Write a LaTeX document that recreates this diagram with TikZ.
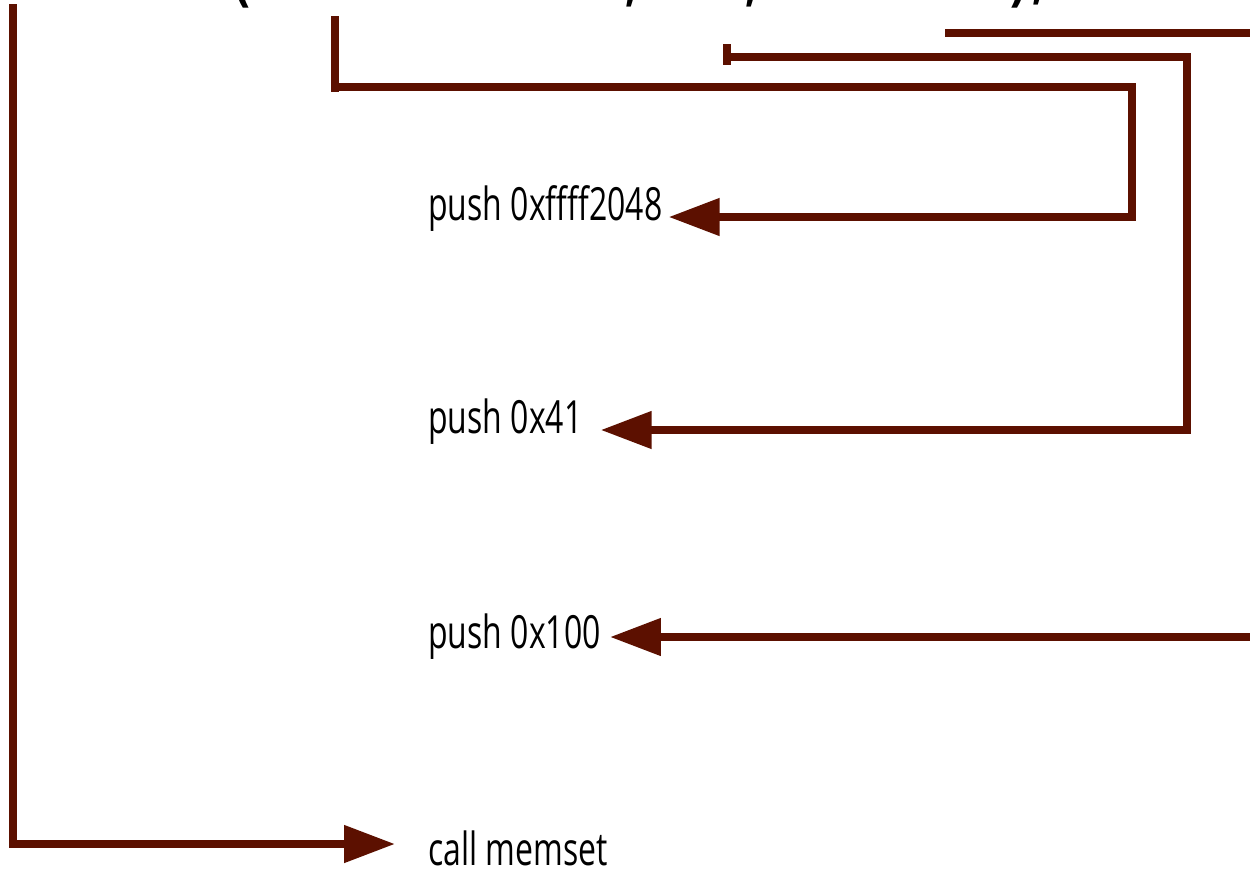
\documentclass[tikz,border=0pt]{standalone}
\usepackage{fontspec}
\setmainfont{Open Sans}[FakeStretch=0.70]
\usetikzlibrary{arrows.meta,calc}
\definecolor{wire}{RGB}{92,16,0}
\begin{document}
\begin{tikzpicture}[x=0.02cm,y=-0.02cm,
  wire/.style={draw=wire,line width=4.4pt},
  feed/.style={wire,-{Triangle[length=29pt,width=20.5pt]}},
  lbl/.style={anchor=base west,inner sep=0pt,font=\fontsize{26}{30}\selectfont},
  call/.style={anchor=south,inner sep=0pt,font=\fontsize{60}{70}\selectfont}]
\clip (0,0) rectangle (1250,869);
\useasboundingbox (0,0) rectangle (1250,869);

% the C call, only its lower edge in view
\node[call] (lp) at (240,9) {(};
\node[call] (c1) at (634,7) {,};
\node[call] (c2) at (754,7) {,};
\node[call] (rp) at (1030,9) {);};

% the assembly listing
\node[lbl] (p1) at (428,220) {push 0xffff2048};
\node[lbl] (p2) at (428,433) {push 0x41};
\node[lbl] (p3) at (428,648) {push 0x100};
\node[lbl] (cm) at (428,865) {call memset};

% argument taps under the call
\coordinate (a0) at (13,4);
\coordinate (a1) at (335,16);
\coordinate (a2) at (727,44);
\coordinate (a3) at (945,33);
\coordinate (a3r) at (1252,637);

% bends
\coordinate (b1) at (1132,87);
\coordinate (r1) at (1132,217);
\coordinate (b2) at (1187,57);
\coordinate (r2) at (1187,430);
\coordinate (r0) at (13,844);

% first argument -> push 0xffff2048 (the tap runs a little past the turn)
\draw[feed] (a1) -- ($(a1 |- b1)+(0,5)$) (a1 |- b1) -- (b1) -- (r1) -- ($(p1.east |- r1)+(6,0)$);
% second argument -> push 0x41
\draw[feed] (a2) -- ($(a2 |- b2)+(0,8)$) (a2 |- b2) -- (b2) -- (r2) -- ($(p2.east |- r2)+(18,0)$);
% third argument -> push 0x100
\draw[wire] (a3) -- (1252,33);
\draw[feed] (a3r) -- ($(p3.east |- a3r)+(9,0)$);
% function name -> call memset
\draw[feed] (a0) -- (r0) -- ($(cm.west |- r0)+(-33,0)$);
\end{tikzpicture}
\end{document}
